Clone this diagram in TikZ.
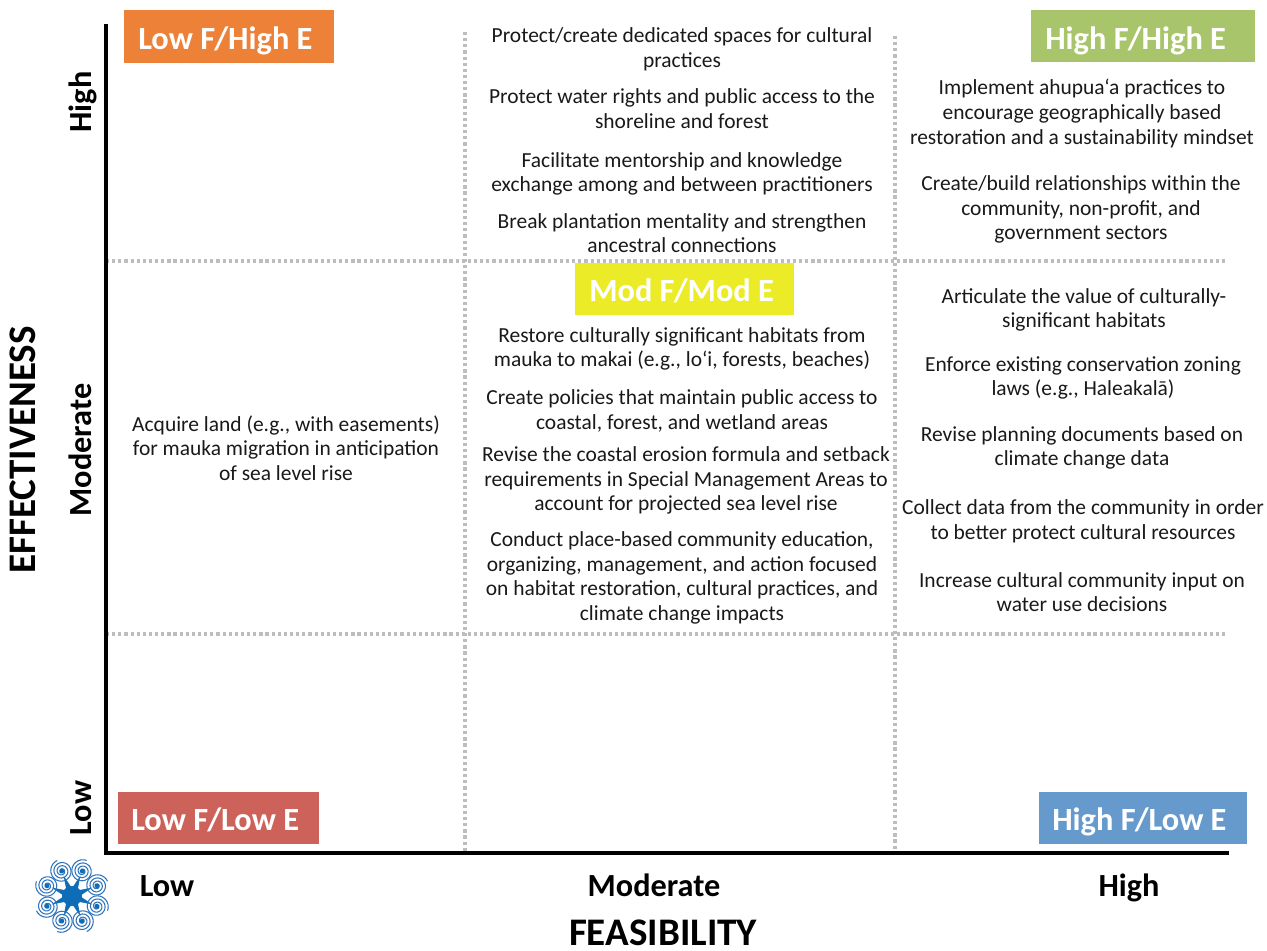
\documentclass[tikz,border=0pt]{standalone}
\usepackage{fontspec}
\setmainfont{Carlito}
\definecolor{gridgray}{HTML}{BDBDBD}
\definecolor{logoblue}{HTML}{2F74BC}
\definecolor{logodark}{HTML}{0F6DB8}
\tikzset{
  body/.style={align=center,inner sep=0pt,text=black!90,font=\fontsize{16.1}{18.5}\selectfont},
  tag/.style={anchor=base west,inner sep=0pt,text=white,font=\fontsize{24.3}{26}\selectfont\bfseries},
  axistick/.style={anchor=base,inner sep=0pt,font=\fontsize{24.2}{26}\selectfont\bfseries},
  axistitle/.style={anchor=base,inner sep=0pt,font=\fontsize{29.3}{31}\selectfont\bfseries},
  gridline/.style={gridgray,line width=3pt,dash pattern=on 2.4pt off 2.2pt},
  axisline/.style={black,line width=2.6pt,line cap=rect},
  swirl/.style={logoblue,line width=0.8pt}
}
\begin{document}
\begin{tikzpicture}[x=0.75pt,y=-0.75pt]
\useasboundingbox (0,0) rectangle (1267,950);
% named points
\coordinate (o) at (106,853);
\coordinate (yt) at (106,26);
\coordinate (xe) at (1227,853);
\coordinate (g1t) at (465,32);
\coordinate (g1b) at (465,854);
\coordinate (g2t) at (895,36);
\coordinate (g2b) at (895,856);
\coordinate (h1l) at (106,261);
\coordinate (h1r) at (1225,261);
\coordinate (h2l) at (106,634);
\coordinate (h2r) at (1227,634);
% grid
\draw[gridline] (g1t) -- (g1b);
\draw[gridline] (g2t) -- (g2b);
\draw[gridline] (h1l) -- (h1r);
\draw[gridline] (h2l) -- (h2r);
% axes
\draw[axisline] (yt) -- (o) -- (xe);
% tag boxes
\fill[fill={rgb,255:red,237;green,129;blue,55}] (124,10) rectangle (334,63);
\fill[fill={rgb,255:red,169;green,197;blue,107}] (1031,10) rectangle (1255,62);
\fill[fill={rgb,255:red,235;green,235;blue,40}] (575,263) rectangle (794,315);
\fill[fill={rgb,255:red,204;green,98;blue,89}] (118,792) rectangle (319,844);
\fill[fill={rgb,255:red,102;green,153;blue,204}] (1039,792) rectangle (1247,844);
\node[tag] (lh) at (138,49) {Low F/High E};
\node[tag] (hh) at (1045,49) {High F/High E};
\node[tag] (mm) at (589,301) {Mod F/Mod E};
\node[tag] (ll) at (131,830) {Low F/Low E};
\node[tag] (hl) at (1052,830) {High F/Low E};
% column 1
\node[body] (a1) at (286,448) {Acquire land (e.g., with easements)\\for mauka migration in anticipation\\of sea level rise};
% column 2
\node[body] (b1) at (682,49.5) {Protect/create dedicated spaces for cultural\\practices};
\node[body] (b2) at (682,108.5) {Protect water rights and public access to the\\shoreline and forest};
\node[body] (b3) at (682,174) {Facilitate mentorship and knowledge\\exchange among and between practitioners};
\node[body] (b4) at (682,233) {Break plantation mentality and strengthen\\ancestral connections};
\node[body] (b5) at (682,349) {Restore culturally significant habitats from\\mauka to makai (e.g., lo‘i, forests, beaches)};
\node[body] (b6) at (682,411) {Create policies that maintain public access to\\coastal, forest, and wetland areas};
\node[body] (b7) at (686,480.5) {Revise the coastal erosion formula and setback\\requirements in Special Management Areas to\\account for projected sea level rise};
\node[body] (b8) at (682,578) {Conduct place-based community education,\\organizing, management, and action focused\\on habitat restoration, cultural practices, and\\climate change impacts};
% column 3
\node[body] (c1) at (1082,113.5) {Implement ahupua‘a practices to\\encourage geographically based\\restoration and a sustainability mindset};
\node[body] (c2) at (1081,209.5) {Create/build relationships within the\\community, non-profit, and\\government sectors};
\node[body] (c3) at (1084,310) {Articulate the value of culturally-\\significant habitats};
\node[body] (c4) at (1083,378) {Enforce existing conservation zoning\\laws (e.g., Haleakalā)};
\node[body] (c5) at (1082,448) {Revise planning documents based on\\climate change data};
\node[body] (c6) at (1083,521.5) {Collect data from the community in order\\to better protect cultural resources};
\node[body] (c7) at (1082,592) {Increase cultural community input on\\water use decisions};
% axis labels
\node[axistick,rotate=90] (yh) at (91,102) {High};
\node[axistick,rotate=90] (ym) at (91,450) {Moderate};
\node[axistick,rotate=90] (yl) at (91,808) {Low};
\node[axistick] (xl) at (167,896) {Low};
\node[axistick] (xm) at (654,896) {Moderate};
\node[axistick] (xh) at (1129,896) {High};
\node[axistitle,rotate=90] (ey) at (36,450) {EFFECTIVENESS};
\node[axistitle] (fx) at (663,945) {FEASIBILITY};
% logo
\coordinate (lc) at (72,896);
\foreach \a in {22.5,67.5,...,360}{
  \begin{scope}[shift={(lc)},rotate=\a]
    \fill[logodark] (0,-4.5) -- (22,0) -- (0,4.5) -- cycle;
    \begin{scope}[shift={(27,0)}]
      \draw[swirl,smooth] plot[domain=0:1080,samples=70] ({(2+\x/1080*9.5)*cos(\x)},{(2+\x/1080*9.5)*sin(\x)});
      \fill[logodark] (0,0) circle (2.6);
    \end{scope}
  \end{scope}
}
\fill[logodark] (lc) circle (10);
\end{tikzpicture}
\end{document}
